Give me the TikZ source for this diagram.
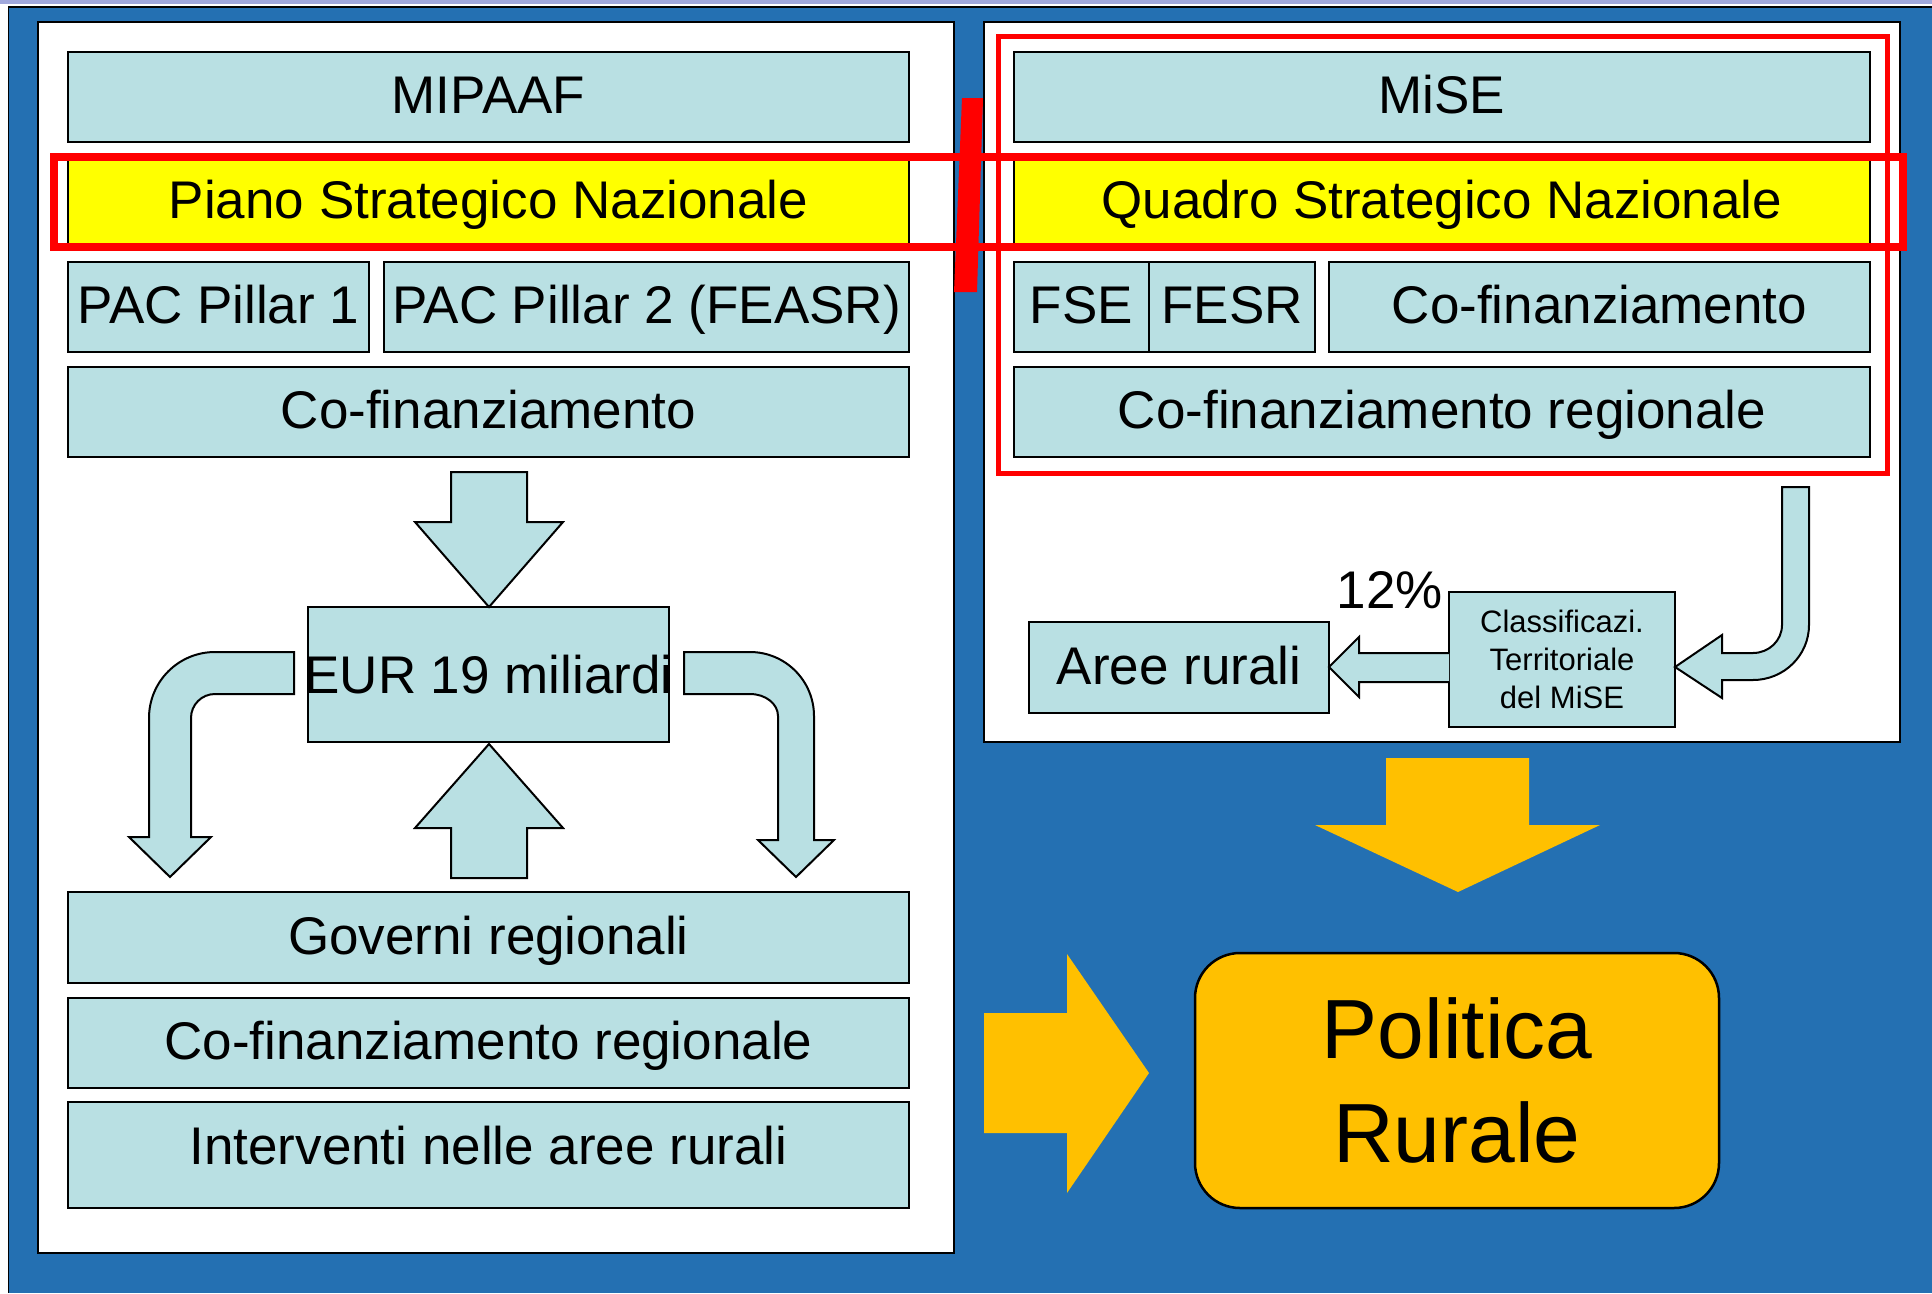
\documentclass[tikz,border=0pt]{standalone}
\usepackage{fontspec}
\setmainfont{Liberation Sans}
\definecolor{tealc}{RGB}{185,224,227}
\definecolor{yellowc}{RGB}{255,255,0}
\definecolor{redc}{RGB}{255,0,0}
\definecolor{orangec}{RGB}{255,192,0}
\definecolor{bluebg}{RGB}{36,112,178}
\definecolor{lavc}{RGB}{160,168,220}
\tikzset{
  bigfont/.style={font=\fontsize{53}{60}\selectfont},
  tealbox/.style={draw=black, line width=2pt, fill=tealc, inner sep=0pt, bigfont, text height=38pt, text depth=5pt},
  yellowbox/.style={tealbox, fill=yellowc},
  panel/.style={draw=black, line width=2.5pt, fill=white},
  redframe/.style={draw=redc, line width=8pt},
  redthin/.style={draw=redc, line width=5pt},
  blockarrow/.style={draw=black, line width=2pt, fill=tealc, line join=miter},
  orangearrow/.style={fill=orangec},
  plaintext/.style={bigfont, inner sep=0pt}
}
\begin{document}
\begin{tikzpicture}[x=1pt, y=-1pt]
\useasboundingbox (0,0) rectangle (1932,1293);
% background
\fill[white] (0,0) rectangle (1932,1293);
\fill[lavc] (0,0) rectangle (1932,3.5);
\fill[bluebg] (8.5,7) rectangle (1932,1293);
\draw[black, line width=1.2pt] (1932,7) -- (8.5,7) -- (8.5,1293);
% panels
\draw[panel] (38,22) rectangle (954,1253);
\draw[panel] (984,22) rectangle (1900,742);
% left column boxes
\node[tealbox, minimum width=841pt, minimum height=90pt] (mipaaf) at (488.5,97) {MIPAAF};
\node[yellowbox, minimum width=841pt, minimum height=90pt] (piano) at (488.5,202) {Piano Strategico Nazionale};
\node[tealbox, minimum width=301pt, minimum height=90pt] (pac1) at (218.5,307) {PAC Pillar 1};
\node[tealbox, minimum width=525pt, minimum height=90pt] (pac2) at (646.5,307) {PAC Pillar 2 (FEASR)};
\node[tealbox, minimum width=841pt, minimum height=90pt] (cofin) at (488.5,412) {Co-finanziamento};
\node[tealbox, text depth=0pt, minimum width=361pt, minimum height=135pt] (eur) at (488.5,674.5) {\makebox[0pt]{EUR 19 miliardi}};
\node[tealbox, minimum width=841pt, minimum height=91pt] (governi) at (488.5,937.5) {Governi regionali};
\node[tealbox, minimum width=841pt, minimum height=90pt] (cofinreg) at (488.5,1043) {Co-finanziamento regionale};
\node[tealbox, text depth=20pt, minimum width=841pt, minimum height=106pt] (interventi) at (488.5,1155) {Interventi nelle aree rurali};
% left column arrows
\draw[blockarrow] (451,472) -- (527,472) -- (527,522) -- (563,522) -- (489,607) -- (415,522) -- (451,522) -- cycle;
\draw[blockarrow] (451,878) -- (527,878) -- (527,828) -- (563,828) -- (489,744) -- (415,828) -- (451,828) -- cycle;
\draw[blockarrow] (294,652) -- (215,652) .. controls (178.5,652) and (149,681.5) .. (149,718) -- (149,837) -- (129,837) -- (170,877) -- (211,837) -- (191,837) -- (191,718) .. controls (191,704.7) and (201.7,694) .. (215,694) -- (294,694) -- cycle;
\draw[blockarrow] (684,652) -- (750,652) .. controls (785.3,652) and (814,680.7) .. (814,716) -- (814,840) -- (834,840) -- (796,877) -- (758,840) -- (778,840) -- (778,716) .. controls (778,703.8) and (765.5,694) .. (750,694) -- (684,694) -- cycle;
% right column boxes
\node[tealbox, minimum width=856pt, minimum height=90pt] (mise) at (1442,97) {MiSE};
\node[yellowbox, minimum width=856pt, minimum height=90pt] (quadro) at (1442,202) {Quadro Strategico Nazionale};
\node[tealbox, minimum width=135pt, minimum height=90pt] (fse) at (1081.5,307) {FSE};
\node[tealbox, minimum width=166pt, minimum height=90pt] (fesr) at (1232,307) {FESR};
\node[tealbox, minimum width=541pt, minimum height=90pt] (cofin2) at (1599.5,307) {Co-finanziamento};
\node[tealbox, minimum width=856pt, minimum height=90pt] (cofinreg2) at (1442,412) {Co-finanziamento regionale};
\node[tealbox, minimum width=300pt, minimum height=91pt] (aree) at (1179,667.5) {Aree rurali};
\node[tealbox, minimum width=226pt, minimum height=135pt, text height=, text depth=, align=center, font=\fontsize{31}{38}\selectfont] (classif) at (1562,659.5) {\raisebox{-2.5pt}{\parbox{220pt}{\centering Classificazi.\\Territoriale\\del MiSE}}};
\node[plaintext, anchor=base] (pct) at (1390,608) {12\%};
% right column arrows
\draw[blockarrow] (1782,487) -- (1809,487) -- (1809,625) .. controls (1809,655.4) and (1783.9,680) .. (1753,680) -- (1722,680) -- (1722,698) -- (1675,667) -- (1722,635) -- (1722,653) -- (1753,653) .. controls (1769,653) and (1782,640.5) .. (1782,625) -- cycle;
\fill[tealc] (1449,653) -- (1359,653) -- (1359,637) -- (1329,667) -- (1359,697) -- (1359,682) -- (1449,682) -- cycle;
\draw[black, line width=2pt, line join=miter] (1449,653) -- (1359,653) -- (1359,637) -- (1329,667) -- (1359,697) -- (1359,682) -- (1449,682);
% red frames
\draw[redthin] (998,36) rectangle (1887,473);
\draw[redframe] (53.5,157) rectangle (1903,247);
\fill[redc] (962,98) -- (983,98) -- (977,292) -- (954,292) -- cycle;
% bottom right
\fill[orangearrow] (1386,758) -- (1529,758) -- (1529,825) -- (1600,825) -- (1458,892) -- (1315,825) -- (1386,825) -- cycle;
\fill[orangearrow] (984,1013) -- (1067,1013) -- (1067,954) -- (1149,1073) -- (1067,1193) -- (1067,1133) -- (984,1133) -- cycle;
\node[draw=black, line width=2.5pt, fill=orangec, rounded corners=45pt, minimum width=524pt, minimum height=255pt, inner sep=0pt, align=center, font=\fontsize{84}{104}\selectfont] (politica) at (1457,1080.5) {Politica\\Rurale};
\end{tikzpicture}
\end{document}
